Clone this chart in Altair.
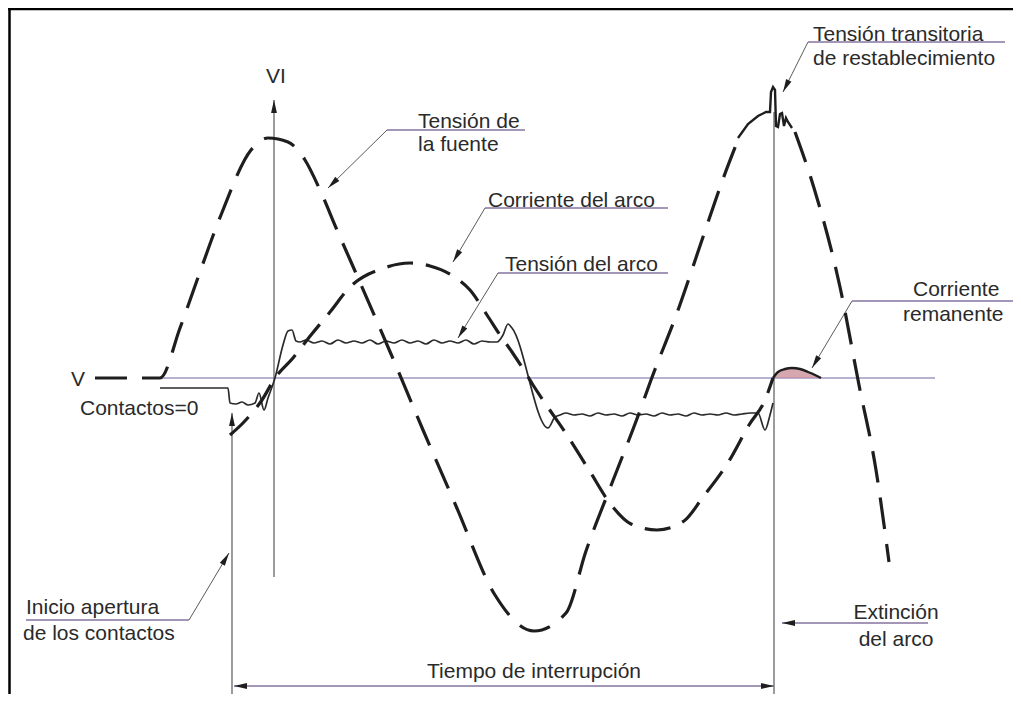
import math
import altair as alt
import pandas as pd

# ---------------- data (x = time along the drawing, v = level above the zero line) ----------------
# Tensión de la fuente (dashed), before and after the recovery transient
SRC_A_T = [95, 160, 180, 195, 221, 251, 268, 288, 305, 320, 337, 355, 391, 423, 456, 495, 534,
           566, 586, 612, 638, 651, 677, 703, 723, 738]
SRC_A_V = [0, 0, 50, 92, 163, 228, 240, 236, 218, 188, 148, 107, 24, -52, -128, -217, -253,
           -235, -173, -105, -38, -2, 65, 141, 199, 238]
SRC_B_T = [795, 814, 840, 859, 876, 889]
SRC_B_V = [246, 190, 91, -7, -92, -184]

# Tensión transitoria de restablecimiento (solid)
TRV_T = [738, 748, 758, 766, 770, 771, 773, 775, 776, 778, 780, 782, 784, 786, 788, 792]
TRV_V = [240, 254, 262, 266, 266, 286, 291, 288, 252, 251, 264, 265, 252, 260, 256, 250]

# Corriente del arco (dashed)
CUR_T = [230, 242, 252, 262, 275, 293, 311, 330, 350, 384, 410, 430, 453, 470, 487, 500, 512,
         525, 533, 547, 565, 589, 612, 631, 657, 684, 703, 729, 749, 765, 773]
CUR_V = [-57, -46, -35, -22, 0, 20, 43, 66, 91, 110, 115, 112, 102, 88, 63, 43, 26,
         6, -7, -28, -54, -92, -128, -146, -152, -143, -119, -83, -47, -22, 0]

# Corriente remanente (solid bump, hatched)
REM_T = [773, 778, 785, 792, 800, 808, 815, 821]
REM_V = [0, 6, 9, 10, 9, 6, 3, 0]

# Tensión del arco (solid, rippled)
ARC_T = [160, 228, 230, 236, 242, 248, 255, 259, 264, 268, 275, 283, 288, 292, 296, 300,
         306, 314, 322, 330, 338, 346, 354, 362, 370, 378, 386, 394, 402, 410, 418, 426,
         434, 442, 450, 458, 466, 474, 482, 490,
         497, 503, 508, 512, 548, 555, 560,
         566, 574, 582, 590, 598, 606, 614, 622, 630, 638, 646, 654, 662, 670, 678, 686,
         694, 702, 710, 718, 726, 734, 742, 750,
         758, 765, 770, 773]
ARC_V = [-10, -10, -25, -26, -24, -27, -25, -15, -32, -20, 0, 33, 47, 48, 37, 36,
         38, 35, 37, 34, 38, 35, 37, 35, 38, 34, 37, 35, 38, 35, 37, 34,
         38, 35, 37, 35, 38, 34, 37, 36,
         36, 43, 54, 50, -50, -39, -37,
         -35, -37, -36, -38, -35, -37, -36, -38, -35, -37, -36, -38, -35, -37, -36, -38,
         -35, -37, -36, -37, -35, -37, -36, -35,
         -35, -52, -37, -25]

# labels
LEFT_TEXT = ["Tensión transitoria", "de restablecimiento", "Tensión de", "la fuente",
             "Corriente del arco", "Tensión del arco", "Corriente", "remanente",
             "Contactos=0", "Inicio apertura", "de los contactos"]
LEFT_X = [813, 813, 418, 418, 488, 505, 913, 903, 80, 26, 23]
LEFT_V = [337, 313, 250, 227, 171, 107, 82, 57, -37, -236, -262]

CENTER_TEXT = ["VI", "V", "Extinción", "del arco", "Tiempo de interrupción"]
CENTER_X = [276, 78, 896, 896, 534]
CENTER_V = [295, -8, -241, -268, -300]

# leader lines (from label underline to arrow tip)
LEAD_X1 = [808, 387, 485, 498, 852, 189]
LEAD_V1 = [336, 248, 170, 105, 77, -242]
LEAD_X2 = [783, 328, 453, 458, 812, 229]
LEAD_V2 = [286, 190, 116, 40, 10, -175]

# underlines / dimension lines
UL_X1 = [808, 387, 485, 498, 852, 26, 782, 234]
UL_X2 = [1005, 525, 668, 668, 1015, 189, 928, 774]
UL_V = [336, 248, 170, 105, 77, -242, -245, -308]

# reference lines: zero line, VI axis, opening / extinction markers
ZERO_X = [160, 935]
VLINE_X = [274, 232, 774]
VLINE_V1 = [-199, -316, -316]
VLINE_V2 = [278, -35, 266]

# arrowheads on axes / dimension lines: (x, v, direction in degrees clockwise from up)
AX_ARROW_X = [274, 232, 234, 774, 782]
AX_ARROW_V = [278, -35, -308, -308, -245]
AX_ARROW_DIR = [0, 0, 270, 90, 270]

# ---------------- chart ----------------
W, H = 1005, 686
xs = alt.Scale(domain=[8, 8 + W], nice=False, zero=False)
ys = alt.Scale(domain=[-316, -316 + H], nice=False, zero=False)
ARROW = "M0,0L-0.45,2L0.45,2Z"
FONT = "Liberation Sans"
INK = "#1e1e1e"


def X(f):
    return alt.X(f, scale=xs, axis=None)


def Y(f):
    return alt.Y(f, scale=ys, axis=None)


def curve(t, v, color, width, dash=None, interp="monotone"):
    df = pd.DataFrame({"t": t, "v": v, "i": list(range(len(t)))})
    kw = dict(color=color, strokeWidth=width, interpolate=interp, clip=True)
    if dash:
        kw["strokeDash"] = dash
    return alt.Chart(df).mark_line(**kw).encode(x=X("t:Q"), y=Y("v:Q"), order="i:Q")


def segments(x1, v1, x2, v2, color, width):
    df = pd.DataFrame({"x1": x1, "v1": v1, "x2": x2, "v2": v2})
    return alt.Chart(df).mark_rule(color=color, strokeWidth=width).encode(
        x=X("x1:Q"), y=Y("v1:Q"), x2="x2:Q", y2="v2:Q")


def heads(x, v, ang, color=INK):
    df = pd.DataFrame({"x": x, "v": v, "a": [a % 360 for a in ang]})
    return alt.Chart(df).mark_point(shape=ARROW, filled=True, size=169, color=color, opacity=1,
                                    strokeWidth=0).encode(
        x=X("x:Q"), y=Y("v:Q"), angle=alt.Angle("a:Q", scale=None))


def texts(txt, x, v, align):
    df = pd.DataFrame({"s": txt, "x": x, "v": v})
    return alt.Chart(df).mark_text(align=align, baseline="alphabetic", font=FONT, fontSize=21,
                                   color="#2a2a2a").encode(x=X("x:Q"), y=Y("v:Q"), text="s:N")


lead_dirs = [math.degrees(math.atan2(x2 - x1, v2 - v1))
             for x1, v1, x2, v2 in zip(LEAD_X1, LEAD_V1, LEAD_X2, LEAD_V2)]

frame = segments([8, 9.5], [369, -316], [8 + W, 9.5], [369, 369], "#000000", 2.5)
zero_line = segments([ZERO_X[0]], [0], [ZERO_X[1]], [0], "#9f97c6", 1.4)
vlines = segments(VLINE_X, VLINE_V1, VLINE_X, VLINE_V2, "#4a4a4a", 1.1)
underlines = segments(UL_X1, UL_V, UL_X2, UL_V, "#85739f", 1.5)
leaders = segments(LEAD_X1, LEAD_V1, LEAD_X2, LEAD_V2, "#5a5a5a", 1.0)

rem_df = pd.DataFrame({"t": REM_T, "v": REM_V, "z": [0] * len(REM_T)})
rem_area = alt.Chart(rem_df).mark_area(color="#c98a96", opacity=0.75, interpolate="monotone").encode(
    x=X("t:Q"), y=Y("v:Q"), y2="z:Q")

chart = alt.layer(
    frame,
    zero_line,
    vlines,
    underlines,
    leaders,
    rem_area,
    curve(ARC_T, ARC_V, "#2a2a2a", 1.7),
    curve(SRC_A_T, SRC_A_V, INK, 3.2, dash=[32, 15]),
    curve(SRC_B_T, SRC_B_V, INK, 3.2, dash=[32, 15]),
    curve(TRV_T, TRV_V, INK, 2.4, interp="linear"),
    curve(CUR_T, CUR_V, INK, 3.2, dash=[26, 13]),
    curve(REM_T, REM_V, INK, 2.4),
    heads(LEAD_X2, LEAD_V2, lead_dirs),
    heads(AX_ARROW_X, AX_ARROW_V, AX_ARROW_DIR),
    texts(LEFT_TEXT, LEFT_X, LEFT_V, "left"),
    texts(CENTER_TEXT, CENTER_X, CENTER_V, "center"),
).properties(
    width=W, height=H, padding=0, autosize=alt.AutoSizeParams(type="none"), background="#ffffff"
).configure_view(stroke=None)

chart.save("out.html", embed_options={"renderer": "svg", "actions": False})
